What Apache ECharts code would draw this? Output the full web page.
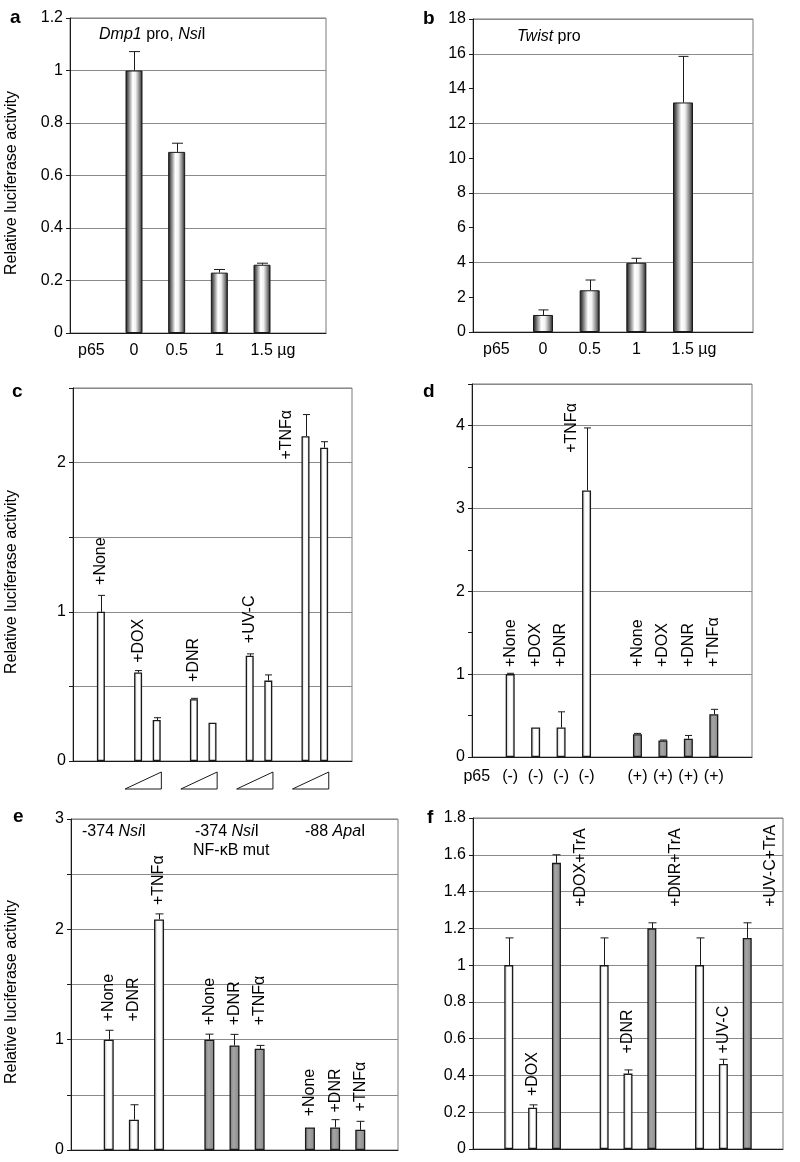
<!DOCTYPE html>
<html>
<head>
<meta charset="utf-8">
<script src="https://cdn.jsdelivr.net/npm/echarts@6/dist/echarts.min.js"></script>
<style>
    html, body { margin: 0; padding: 0; background: #fff; }
    #chart { width: 800px; height: 1162px; }
</style>
</head>
<body>
<div id="chart"></div>
<script type="text/javascript">
    // a: Dmp1 promoter, p65 dose
    var aCats = ['p65', '0', '0.5', '1', '1.5 µg', ''];
    var aVals = ['-', 1.0, 0.69, 0.23, 0.26, '-'];
    var aErr  = ['-', 0.072, 0.033, 0.012, 0.006, '-'];

    // b: Twist promoter, p65 dose
    var bCats = ['p65', '0', '0.5', '1', '1.5 µg', ''];
    var bVals = ['-', 0.98, 2.4, 3.98, 13.2, '-'];
    var bErr  = ['-', 0.29, 0.59, 0.26, 2.65, '-'];

    // c: drug treatments, two doses each
    var cCats = ['', 'None', '', 'DOX 1', 'DOX 2', '', 'DNR 1', 'DNR 2', '', 'UV-C 1', 'UV-C 2', '', 'TNFα 1', 'TNFα 2', ''];
    var cVals = ['-', 1.0, '-', 0.593, 0.275, '-', 0.414, 0.257, '-', 0.705, 0.539, '-', 2.177, 2.10, '-'];
    var cErr  = ['-', 0.11, '-', 0.013, 0.015, '-', 0.006, '-', '-', 0.013, 0.038, '-', 0.145, 0.04, '-'];
    var cRamps = [[3, 4], [6, 7], [9, 10], [12, 13]];

    // d: without / with p65
    var dCats  = ['p65', '(-)', '(-)', '(-)', '(-)', '', '(+)', '(+)', '(+)', '(+)', ''];
    var dMinus = ['-', 1.0, 0.355, 0.355, 3.216, '-', '-', '-', '-', '-', '-'];
    var dPlus  = ['-', '-', '-', '-', '-', '-', 0.275, 0.2, 0.22, 0.515, '-'];
    var dErr   = ['-', 0.01, '-', 0.19, 0.754, '-', 0.01, 0.005, 0.04, 0.06, '-'];

    // e: promoter constructs
    var eCats = ['', 'None', 'DNR', 'TNFα', '', 'None', 'DNR', 'TNFα', '', 'None', 'DNR', 'TNFα', ''];
    var eWt   = ['-', 1.0, 0.275, 2.09, '-', '-', '-', '-', '-', '-', '-', '-', '-'];
    var eMut  = ['-', '-', '-', '-', '-', 1.0, 0.948, 0.917, '-', '-', '-', '-', '-'];
    var eApa  = ['-', '-', '-', '-', '-', '-', '-', '-', '-', 0.205, 0.205, 0.183, '-'];
    var eErr  = ['-', 0.085, 0.135, 0.05, '-', 0.05, 0.10, 0.031, '-', '-', 0.07, 0.077, '-'];

    // f: drug alone vs drug + TrA
    var fCats = ['', 'ctl', 'DOX', 'DOX+TrA', '', 'ctl', 'DNR', 'DNR+TrA', '', 'ctl', 'UV-C', 'UV-C+TrA', ''];
    var fCtl  = ['-', 1.0, 0.225, '-', '-', 1.0, 0.41, '-', '-', 1.0, 0.462, '-', '-'];
    var fTra  = ['-', '-', '-', 1.556, '-', '-', '-', 1.2, '-', '-', '-', 1.148, '-'];
    var fErr  = ['-', 0.148, 0.015, 0.044, '-', 0.148, 0.02, 0.03, '-', 0.148, 0.026, 0.082, '-'];

    // vertical tags above bars: slot, height (axis units), text
    var cTagAt = [1, 3, 6, 9, 11];
    var cTagY  = [1.18, 0.658, 0.53, 0.79, 2.02];
    var cTags  = ['+None', '+DOX', '+DNR', '+UV-C', '+TNFα'];
    var dTagAt = [1, 2, 3, 4, 6, 7, 8, 9];
    var dTagY  = [1.085, 1.085, 1.085, 3.67, 1.085, 1.085, 1.085, 1.085];
    var dTags  = ['+None', '+DOX', '+DNR', '+TNFα', '+None', '+DOX', '+DNR', '+TNFα'];
    var eTagAt = [1, 2, 3, 5, 6, 7, 9, 10, 11];
    var eTagY  = [1.165, 1.165, 2.22, 1.13, 1.13, 1.13, 0.305, 0.34, 0.35];
    var eTags  = ['+None', '+DNR', '+TNFα', '+None', '+DNR', '+TNFα', '+None', '+DNR', '+TNFα'];
    var fTagAt = [2, 4, 6, 8, 10, 12];
    var fTagY  = [0.288, 1.317, 0.52, 1.317, 0.52, 1.317];
    var fTags  = ['+DOX', '+DOX+TrA', '+DNR', '+DNR+TrA', '+UV-C', '+UV-C+TrA'];

    var FONT = '"Liberation Sans", Arial, Helvetica, sans-serif';

    var cylFill = {type: 'linear', x: 0, y: 0, x2: 1, y2: 0, colorStops: [
        {offset: 0, color: '#111'}, {offset: 0.15, color: '#666'}, {offset: 0.42, color: '#fff'},
        {offset: 0.6, color: '#f2f2f2'}, {offset: 0.85, color: '#777'}, {offset: 1, color: '#111'}]};
    var whiteFill = {type: 'linear', x: 0, y: 0, x2: 1, y2: 0, colorStops: [
        {offset: 0, color: '#b0b0b0'}, {offset: 0.35, color: '#fff'}, {offset: 0.7, color: '#fff'}, {offset: 1, color: '#b5b5b5'}]};
    var grayFill = {type: 'linear', x: 0, y: 0, x2: 1, y2: 0, colorStops: [
        {offset: 0, color: '#777'}, {offset: 0.4, color: '#a5a5a5'}, {offset: 1, color: '#888'}]};

    function firstVal(arrs, i) {
        for (var k = 0; k < arrs.length; k++) {
            if (arrs[k][i] !== '-') return arrs[k][i];
        }
        return '-';
    }

    function barSeries(g, data, fill, width, bw) {
        return {
            type: 'bar', xAxisIndex: g, yAxisIndex: g, data: data, barWidth: width, barGap: '-100%',
            silent: true, z: 2,
            itemStyle: {color: fill, borderColor: '#1a1a1a', borderWidth: bw}
        };
    }

    function errSeries(g, vals, err, cap) {
        var data = [];
        for (var i = 0; i < err.length; i++) {
            if (err[i] === '-') continue;
            var v = firstVal(vals, i);
            data.push([i, v, v + err[i]]);
        }
        return {
            type: 'custom', xAxisIndex: g, yAxisIndex: g, data: data, silent: true, z: 3,
            renderItem: function (params, api) {
                var lo = api.coord([api.value(0), api.value(1)]);
                var hi = api.coord([api.value(0), api.value(2)]);
                var x = Math.round(lo[0]) + 0.5;
                var st = {stroke: '#1a1a1a', lineWidth: 1};
                return {type: 'group', children: [
                    {type: 'line', shape: {x1: x, y1: lo[1], x2: x, y2: hi[1]}, style: st},
                    {type: 'line', shape: {x1: x - cap, y1: hi[1], x2: x + cap, y2: hi[1]}, style: st}
                ]};
            }
        };
    }

    function tagSeries(g, at, lift, text, shift) {
        return {
            type: 'custom', xAxisIndex: g, yAxisIndex: g, silent: true, clip: false, z: 5,
            data: at.map(function (i, k) { return [i, lift[k]]; }),
            renderItem: function (params, api) {
                var k = params.dataIndex;
                var p = api.coord([api.value(0), api.value(1)]);
                var band = api.size([1, 0])[0];
                return {
                    type: 'text', x: p[0] + (shift ? shift[k] * band : 0), y: p[1], rotation: Math.PI / 2,
                    style: {text: text[k], fontSize: 16, fontFamily: FONT, fill: '#000', align: 'left', verticalAlign: 'middle'}
                };
            }
        };
    }

    function intOnly(v) {
        return Math.abs(v - Math.round(v)) < 1e-6 ? String(Math.round(v)) : '';
    }

    var grids = [
        {left: 70, top: 18, width: 256, height: 315},
        {left: 473, top: 19, width: 280, height: 313},
        {left: 73, top: 388, width: 279, height: 373},
        {left: 472, top: 384, width: 280, height: 373},
        {left: 71, top: 819, width: 327, height: 331},
        {left: 473, top: 818, width: 310, height: 331}
    ].map(function (g) {
        g.show = true; g.borderColor = '#7a7a7a'; g.borderWidth = 1;
        g.containLabel = false; g.outerBoundsMode = 'none';
        return g;
    });

    var allCats = [aCats, bCats, cCats, dCats, eCats, fCats];
    var showX = [true, true, false, true, false, false];
    var xAxes = allCats.map(function (cats, g) {
        return {
            type: 'category', gridIndex: g, data: cats,
            axisTick: {show: false},
            axisLine: {show: true, lineStyle: {color: '#1a1a1a', width: 1}},
            axisLabel: {
                show: showX[g], color: '#000', fontSize: 16, fontFamily: FONT, margin: g === 3 ? 12 : 10, interval: 0,
                formatter: function (v) {
                    if (v.indexOf('µg') > 0) return '{sp| }' + v;
                    if (v === 'p65' && g === 3) return v + '{sp2| }';
                    return v;
                },
                rich: {sp: {width: 22}, sp2: {width: 16}}
            }
        };
    });

    function yAxis(g, max, interval, grid, fmt, name) {
        var ax = {
            type: 'value', gridIndex: g, min: 0, max: max, interval: interval,
            axisLine: {show: true, lineStyle: {color: '#1a1a1a', width: 1}},
            axisTick: {show: true, length: 4, lineStyle: {color: '#1a1a1a'}},
            axisLabel: {color: '#000', fontSize: 16, fontFamily: FONT, margin: 7, formatter: fmt},
            splitLine: {show: grid, lineStyle: {color: '#8a8a8a', width: 1}}
        };
        if (name) {
            ax.name = name; ax.nameLocation = 'middle'; ax.nameGap = 50;
            ax.nameTextStyle = {color: '#000', fontSize: 16, fontFamily: FONT, padding: [0, 15, 0, 0]};
        }
        return ax;
    }

    function gridLines(g, max, interval) {
        return {
            type: 'value', gridIndex: g, min: 0, max: max, interval: interval,
            axisLine: {show: false}, axisTick: {show: false}, axisLabel: {show: false},
            splitLine: {show: true, lineStyle: {color: '#8a8a8a', width: 1}}
        };
    }

    var yName = 'Relative luciferase activity';
    var yAxes = [
        yAxis(0, 1.2, 0.2, true, null, yName),
        yAxis(1, 18, 2, false, null, null),
        yAxis(2, 2.5, 0.5, true, intOnly, yName),
        yAxis(3, 4.5, 0.5, false, intOnly, null),
        yAxis(4, 3, 0.5, true, intOnly, yName),
        yAxis(5, 1.8, 0.2, true, null, null),
        gridLines(1, 18, 4),
        gridLines(3, 4.5, 1)
    ];
    yAxes[2].nameGap = 53;
    yAxes[4].nameGap = 51;

    var rampSeries = {
        type: 'custom', xAxisIndex: 2, yAxisIndex: 2, data: cRamps, silent: true, clip: false, z: 5,
        renderItem: function (params, api) {
            var p1 = api.coord([api.value(0), 0]);
            var p2 = api.coord([api.value(1), 0]);
            var band = api.size([1, 0])[0];
            var x0 = p1[0] - 0.7 * band, x1 = p2[0] + 0.25 * band;
            var y0 = p1[1] + 11, y1 = p1[1] + 28;
            return {type: 'polygon', shape: {points: [[x0, y1], [x1, y0], [x1, y1]]},
                style: {fill: '#fff', stroke: '#1a1a1a', lineWidth: 1}};
        }
    };

    var series = [
        barSeries(0, aVals, cylFill, 17, 1),
        errSeries(0, [aVals], aErr, 5.5),
        barSeries(1, bVals, cylFill, 20, 1),
        errSeries(1, [bVals], bErr, 5),

        barSeries(2, cVals, whiteFill, 8, 1.3),
        errSeries(2, [cVals], cErr, 3.5),
        tagSeries(2, cTagAt, cTagY, cTags),
        rampSeries,

        barSeries(3, dMinus, whiteFill, 9, 1.3),
        barSeries(3, dPlus, grayFill, 9, 1.3),
        errSeries(3, [dMinus, dPlus], dErr, 3.5),
        tagSeries(3, dTagAt, dTagY, dTags, [0, 0, 0, -0.6, 0, 0, 0, 0]),

        barSeries(4, eWt, whiteFill, 10, 1.3),
        barSeries(4, eMut, grayFill, 10, 1.3),
        barSeries(4, eApa, grayFill, 10, 1.3),
        errSeries(4, [eWt, eMut, eApa], eErr, 4),
        tagSeries(4, eTagAt, eTagY, eTags),

        barSeries(5, fCtl, whiteFill, 9, 1.3),
        barSeries(5, fTra, grayFill, 9, 1.3),
        errSeries(5, [fCtl, fTra], fErr, 4),
        tagSeries(5, fTagAt, fTagY, fTags)
    ];

    function txt(x, y, s, extra) {
        var st = {text: s, fontSize: 16, fontFamily: FONT, fill: '#000', verticalAlign: 'middle',
            rich: {i: {fontStyle: 'italic', fontSize: 16, fontFamily: FONT, fill: '#000'}}};
        if (extra) for (var k in extra) st[k] = extra[k];
        return {type: 'text', x: x, y: y, style: st, z: 10};
    }
    function letter(x, y, s) {
        return txt(x, y, s, {fontSize: 19, fontWeight: 'bold'});
    }

    var graphics = [
        letter(10, 18, 'a'), letter(423, 19, 'b'), letter(12, 392, 'c'),
        letter(423, 392, 'd'), letter(13, 817, 'e'), letter(427, 818, 'f'),
        txt(99, 35, '{i|Dmp1} pro, {i|Nsi}I'),
        txt(517, 37, '{i|Twist} pro'),
        txt(82, 832, '-374 {i|Nsi}I'),
        txt(195, 832, '-374 {i|Nsi}I'),
        txt(193, 851, 'NF-κB mut'),
        txt(305, 832, '-88 {i|Apa}I')
    ];

    var myChart = echarts.init(document.getElementById('chart'), null, {renderer: 'canvas'});
    myChart.setOption({
        animation: false,
        backgroundColor: '#fff',
        textStyle: {fontFamily: FONT},
        grid: grids,
        xAxis: xAxes,
        yAxis: yAxes,
        series: series,
        graphic: graphics
    });
</script>
</body>
</html>
